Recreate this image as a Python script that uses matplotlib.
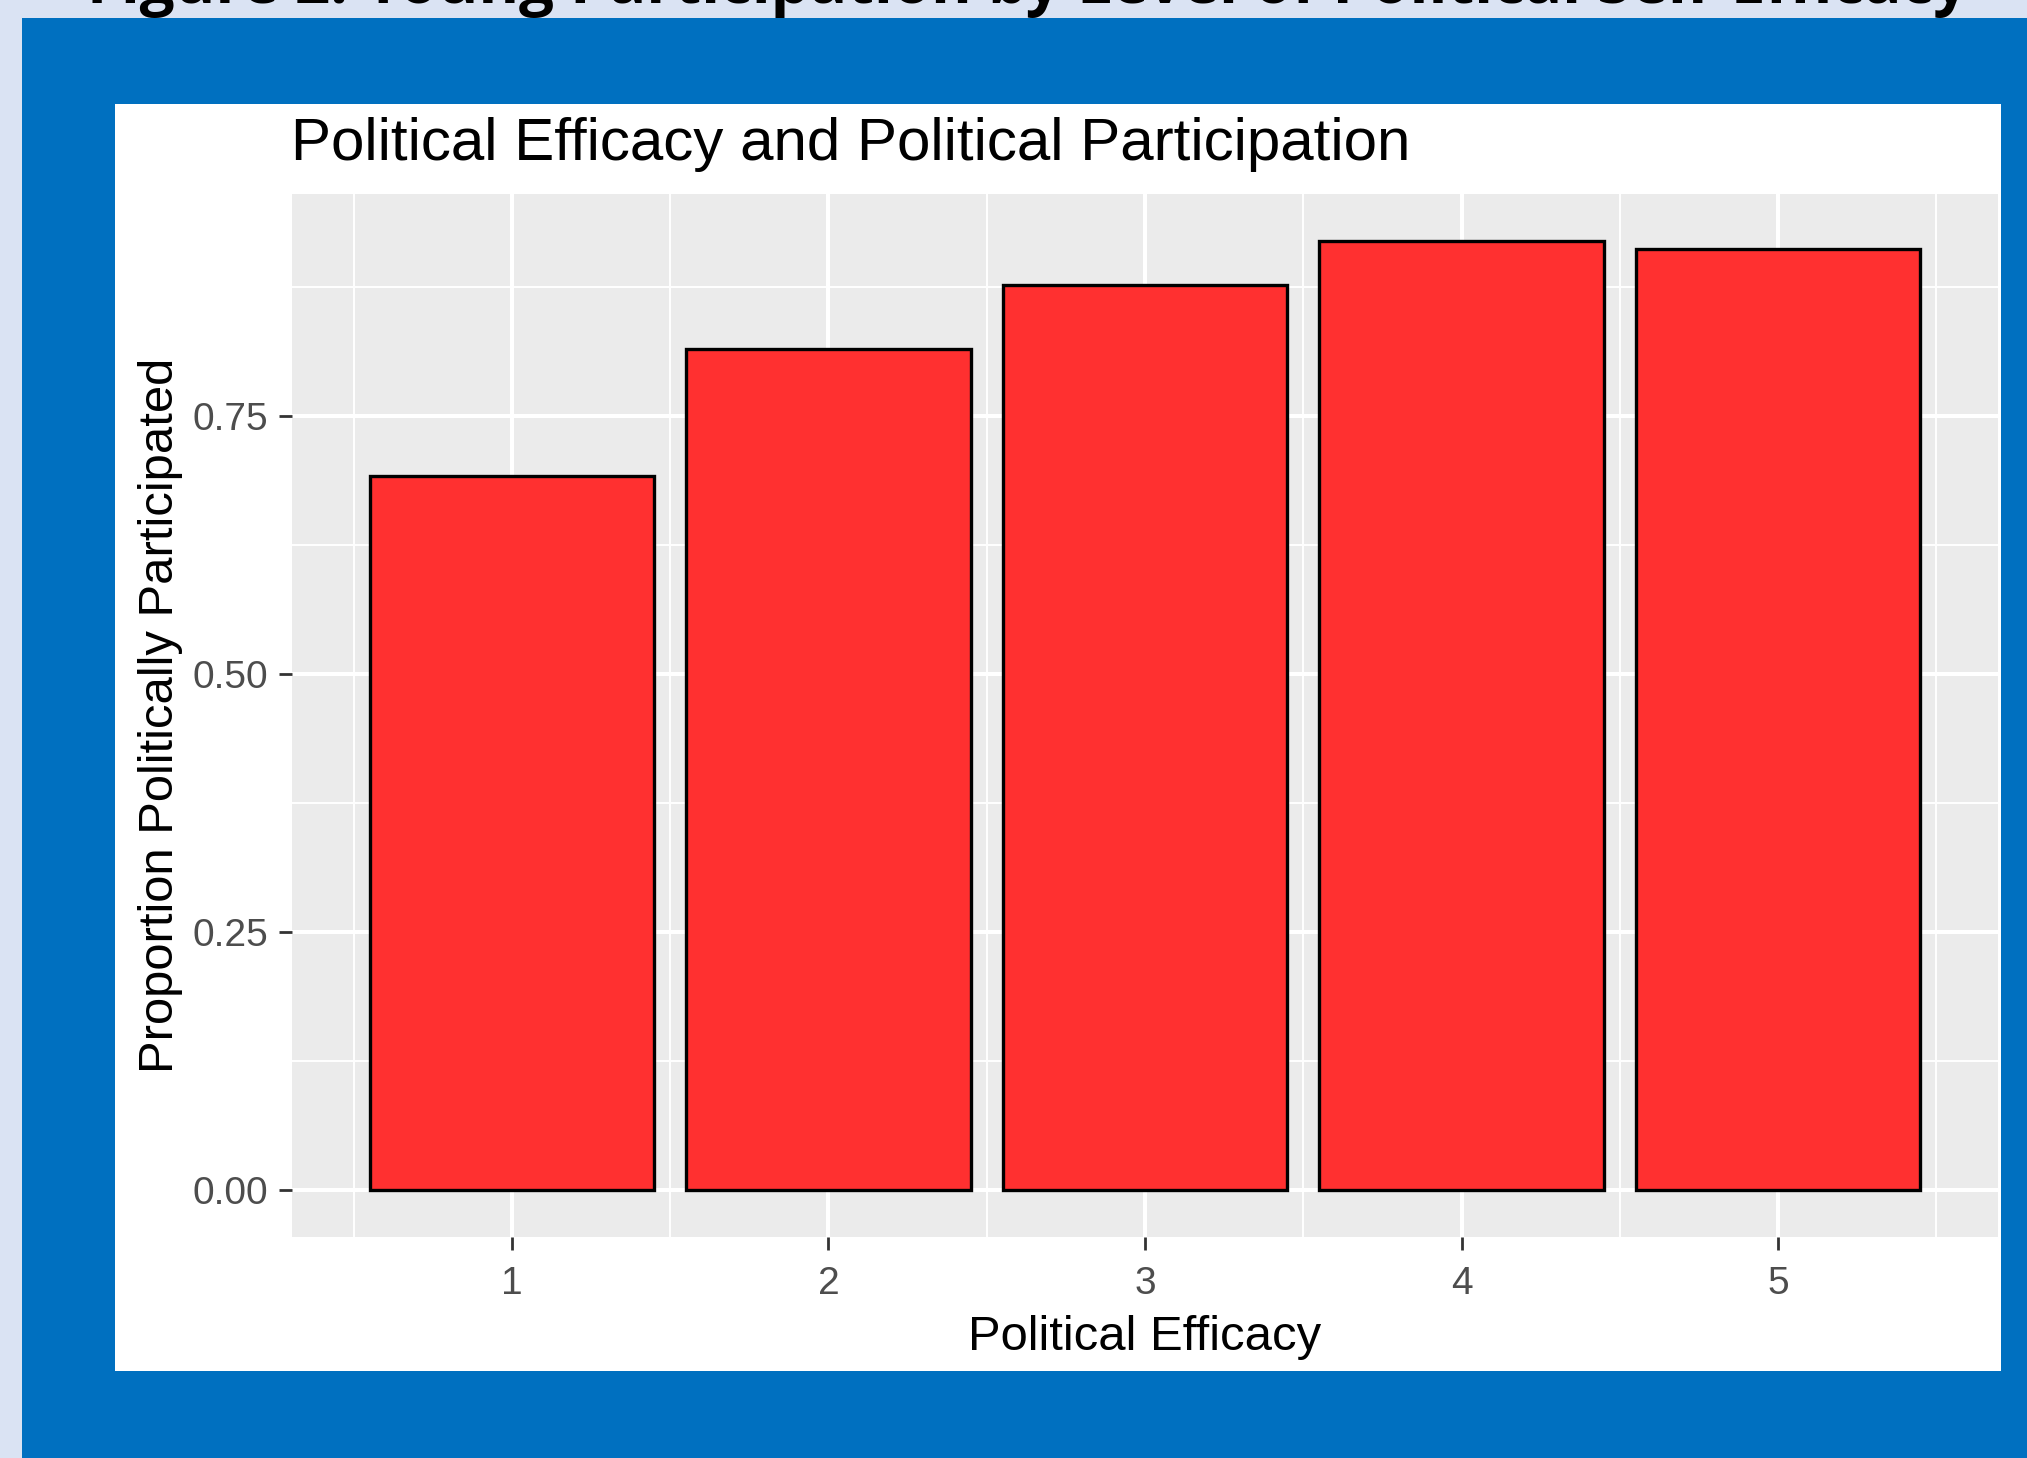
import matplotlib
matplotlib.use("Agg")
import matplotlib.pyplot as plt
from matplotlib.patches import Rectangle
from matplotlib.ticker import FixedLocator

# participation rate by self-rated political efficacy (1-5)
efficacy = [1, 2, 3, 4, 5]
participated = [0.692, 0.815, 0.877, 0.919, 0.912]
y_ticks = [0.00, 0.25, 0.50, 0.75]
y_tick_labels = ["0.00", "0.25", "0.50", "0.75"]

W, H = 2027, 1458
fig = plt.figure(figsize=(W / 100, H / 100), dpi=100)
fig.patch.set_facecolor("#DAE3F3")
plt.rcParams["font.family"] = ["Liberation Sans", "DejaVu Sans"]


def box(x0, y0, x1, y1):
    # pixel box (top-left origin) -> figure fraction rect
    return [x0 / W, 1 - y1 / H, (x1 - x0) / W, (y1 - y0) / H]


def panel(x0, y0, x1, y1, color):
    l, b, w, h = box(x0, y0, x1, y1)
    fig.patches.append(Rectangle((l, b), w, h, transform=fig.transFigure,
                                 facecolor=color, edgecolor="none", zorder=0))


# blue slide frame and the white plot card
panel(22, 18, W, H, "#0070C0")
panel(115, 104, 2001, 1371, "white")

# slide heading, cut by the top edge
head = fig.text(87 / W, 1 - 3 / H, "Figure 2: Young Participation by Level of Political Self-Efficacy",
                fontsize=36, fontweight="bold", family=["Open Sans", "DejaVu Sans"],
                color="black", ha="left", va="baseline")
fig.canvas.draw()
w = head.get_window_extent().width
head.set_fontsize(36 * 1883 / w)

ax = fig.add_axes(box(292, 194, 1998, 1237))
ax.set_zorder(2)
ax.set_facecolor("#EBEBEB")
for s in ax.spines.values():
    s.set_visible(False)

ax.bar(efficacy, participated, width=0.9, color="#FF3030", edgecolor="black", linewidth=2.4, zorder=3)

ymax = max(participated)
ax.set_ylim(-0.05 * ymax, 1.05 * ymax)
ax.set_xlim(0.55 - 0.245, 5.45 + 0.245)

ax.xaxis.set_major_locator(FixedLocator(efficacy))
ax.xaxis.set_minor_locator(FixedLocator([e - 0.5 for e in efficacy] + [efficacy[-1] + 0.5]))
ax.yaxis.set_major_locator(FixedLocator(y_ticks))
ax.yaxis.set_minor_locator(FixedLocator([t + 0.125 for t in y_ticks]))
ax.set_yticklabels(y_tick_labels)

ax.grid(which="major", color="white", linewidth=2.9, zorder=1)
ax.grid(which="minor", color="white", linewidth=1.4, zorder=1)
ax.set_axisbelow(True)

ax.tick_params(which="major", length=9.5, width=2.0, color="#333333",
               labelsize=28, labelcolor="#4D4D4D", pad=7.5)
ax.tick_params(axis="x", which="major", pad=11.5)
ax.tick_params(which="minor", length=0)

ax.set_xlabel("Political Efficacy", fontsize=35.3, color="black", labelpad=9)
ax.set_ylabel("Proportion Politically Participated", fontsize=35.3, color="black", labelpad=7)

fig.text(291 / W, 1 - 160 / H, "Political Efficacy and Political Participation",
         fontsize=43.3, color="black", ha="left", va="baseline")

fig.savefig("out.png", dpi=100, facecolor=fig.get_facecolor())
